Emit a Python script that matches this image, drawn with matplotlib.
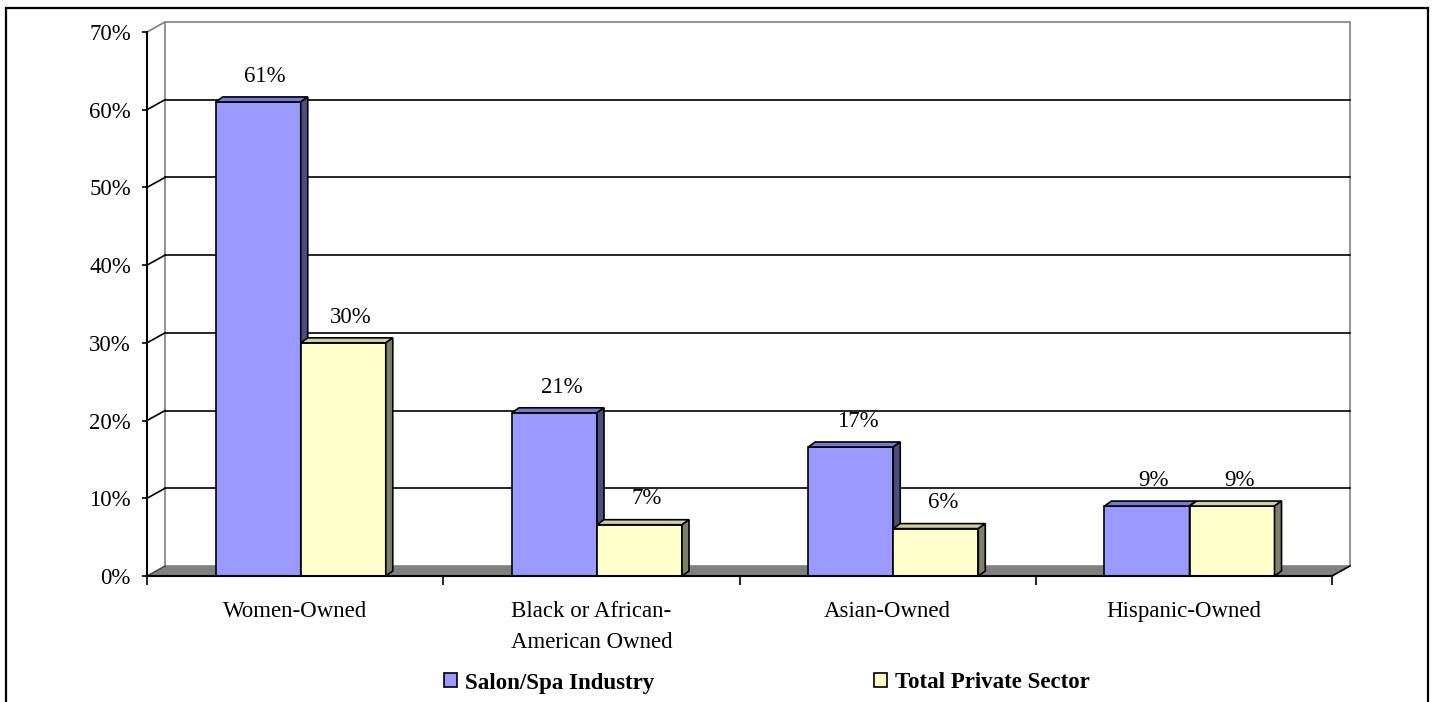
import numpy as np
import matplotlib
matplotlib.use('Agg')
import matplotlib.pyplot as plt
from matplotlib.patches import Polygon, Rectangle, Patch

plt.rcParams['font.family'] = ['Liberation Serif', 'DejaVu Serif']

categories = ['Women-Owned', 'Black or African-\nAmerican Owned', 'Asian-Owned', 'Hispanic-Owned']
salon = [61, 21, 16.6, 9]
private = [30, 6.6, 6.1, 9]
series_names = ['Salon/Spa Industry', 'Total Private Sector']
yticks = [0, 10, 20, 30, 40, 50, 60, 70]

# colours: front, top, side
blue = ('#9999ff', '#7a7ad6', '#4d4d80')
yellow = ('#ffffcc', '#cfcfa6', '#808066')

fig = plt.figure(figsize=(14.32, 7.02), dpi=100)
ax = fig.add_axes([147/1432, 126/702, 1185/1432, 544/702])
ax.set_xlim(-0.5, 3.5)
ax.set_ylim(0, 70)

# 3d look in data units
wdx, wdy = 0.0608, 1.287     # back wall offset
bdx, bdy = 0.0236, 0.643     # bar depth
shift = 0.019
bw = 0.287

# back wall + floor
ax.add_patch(Rectangle((-0.5 + wdx, wdy), 4, 70, fc='white', ec='#808080', lw=1.2, zorder=0, clip_on=False))
ax.add_patch(Polygon([(-0.5, 0), (3.5, 0), (3.5 + wdx, wdy), (-0.5 + wdx, wdy)],
                     closed=True, fc='#808080', ec='none', zorder=1, clip_on=False))
ax.plot([3.5, 3.5 + wdx], [0, wdy], c='black', lw=1.2, zorder=1, clip_on=False)
ax.plot([-0.5, -0.5 + wdx], [0, wdy], c='#404040', lw=1, zorder=1, clip_on=False)
for t in yticks[1:]:
    c = '#808080' if t == 70 else 'black'
    if t < 70:
        ax.plot([-0.5 + wdx, 3.5 + wdx], [t + wdy, t + wdy], c='black', lw=1.2, zorder=1, clip_on=False)
    ax.plot([-0.5, -0.5 + wdx], [t, t + wdy], c=c, lw=1.2, zorder=1, clip_on=False)


def bar3d(x0, h, cols, z):
    x1 = x0 + bw
    ax.add_patch(Rectangle((x0, 0), bw, h, fc=cols[0], ec='black', lw=1.2, zorder=z, clip_on=False))
    ax.add_patch(Polygon([(x0, h), (x1, h), (x1 + bdx, h + bdy), (x0 + bdx, h + bdy)],
                         closed=True, fc=cols[1], ec='black', lw=1.2, zorder=z, clip_on=False))
    ax.add_patch(Polygon([(x1, 0), (x1, h), (x1 + bdx, h + bdy), (x1 + bdx, bdy)],
                         closed=True, fc=cols[2], ec='black', lw=1.2, zorder=z, clip_on=False))
    ax.annotate(f'{h:.0f}%', (x0 + bw / 2 + bdx, h + bdy), xytext=(0, 11), textcoords='offset points',
                ha='center', va='baseline', fontsize=16.5, zorder=5)


x = np.arange(len(categories))
for i in x:
    bar3d(i + shift - bw, salon[i], blue, 2)
    bar3d(i + shift, private[i], yellow, 3)

# axes
for s in ['top', 'right']:
    ax.spines[s].set_visible(False)
ax.spines['left'].set_linewidth(1.5)
ax.spines['bottom'].set_linewidth(1.5)
ax.spines['left'].set_zorder(4)
ax.spines['bottom'].set_zorder(4)
ax.set_yticks(yticks)
ax.set_yticklabels([f'{t}%' for t in yticks])
ax.tick_params(axis='y', length=3.6, width=1.2, pad=8, labelsize=16.5)
ax.set_xticks(x)
ax.set_xticklabels(categories, linespacing=1.6)
ax.set_xticks(np.arange(-0.5, 4, 1), minor=True)
ax.tick_params(axis='x', which='major', length=0, pad=18, labelsize=16.5)
ax.tick_params(axis='x', which='minor', length=6.5, width=1.2)

handles = [Patch(fc=blue[0], ec='black', lw=1.2), Patch(fc=yellow[0], ec='black', lw=1.2)]
fig.legend(handles, series_names, ncol=2, loc='center', bbox_to_anchor=(767/1432, 1 - 683/702),
           frameon=False, prop={'weight': 'bold', 'size': 16.5}, handlelength=0.57, handleheight=0.57,
           handletextpad=0.35, columnspacing=9.6)

fig.patches.append(Rectangle((6/1432, -0.02), 1422/1432, 694/702 + 0.02, transform=fig.transFigure,
                             fill=False, ec='black', lw=1.6))

plt.savefig('out.png', dpi=100)
